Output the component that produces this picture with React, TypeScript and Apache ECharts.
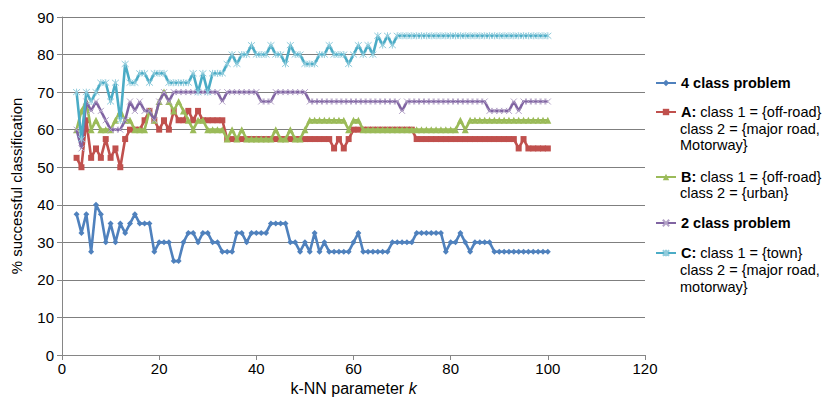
import React, { useEffect, useRef } from "react";
import * as echarts from "echarts";

const K_FIRST = 3;
const K_LAST = 100;

// 4 class problem (k = 3 .. 100)
const fourClass = [
  37.5, 32.5, 37.5, 27.5, 40, 37.5, 30, 35, 30, 35,
  32.5, 35, 37.5, 35, 35, 35, 27.5, 30, 30, 30,
  25, 25, 30, 32.5, 32.5, 30, 32.5, 32.5, 30, 30,
  27.5, 27.5, 27.5, 32.5, 32.5, 30, 32.5, 32.5, 32.5, 32.5,
  35, 35, 35, 35, 30, 30, 27.5, 30, 27.5, 32.5,
  27.5, 30, 27.5, 27.5, 27.5, 27.5, 27.5, 30, 32.5, 27.5,
  27.5, 27.5, 27.5, 27.5, 27.5, 30, 30, 30, 30, 30,
  32.5, 32.5, 32.5, 32.5, 32.5, 32.5, 27.5, 30, 30, 32.5,
  30, 27.5, 30, 30, 30, 30, 27.5, 27.5, 27.5, 27.5,
  27.5, 27.5, 27.5, 27.5, 27.5, 27.5, 27.5, 27.5,
];

// A: off-road vs major road / motorway
const seriesA = [
  52.5, 50, 62.5, 52.5, 55, 52.5, 57.5, 52.5, 55, 50,
  57.5, 60, 60, 60, 62.5, 65, 62.5, 60, 62.5, 60,
  65, 62.5, 62.5, 65, 62.5, 65, 62.5, 62.5, 62.5, 62.5,
  62.5, 57.5, 57.5, 57.5, 57.5, 57.5, 57.5, 57.5, 57.5, 57.5,
  57.5, 57.5, 57.5, 57.5, 57.5, 57.5, 57.5, 57.5, 57.5, 57.5,
  57.5, 57.5, 57.5, 55, 57.5, 55, 57.5, 60, 60, 60,
  60, 60, 60, 60, 60, 60, 60, 60, 60, 60,
  57.5, 57.5, 57.5, 57.5, 57.5, 57.5, 57.5, 57.5, 57.5, 57.5,
  57.5, 57.5, 57.5, 57.5, 57.5, 57.5, 57.5, 57.5, 57.5, 57.5,
  57.5, 55, 57.5, 55, 55, 55, 55, 55,
];

// B: off-road vs urban
const seriesB = [
  60, 65, 67.5, 60, 62.5, 60, 60, 60, 62.5, 65,
  62.5, 62.5, 60, 60, 60, 65, 62.5, 67.5, 70, 67.5,
  65, 67.5, 65, 62.5, 60, 62.5, 62.5, 60, 60, 60,
  60, 57.5, 60, 57.5, 60, 57.5, 57.5, 57.5, 57.5, 57.5,
  57.5, 60, 57.5, 57.5, 60, 57.5, 57.5, 60, 62.5, 62.5,
  62.5, 62.5, 62.5, 62.5, 62.5, 62.5, 60, 62.5, 62.5, 60,
  60, 60, 60, 60, 60, 60, 60, 60, 60, 60,
  60, 60, 60, 60, 60, 60, 60, 60, 60, 62.5,
  60, 62.5, 62.5, 62.5, 62.5, 62.5, 62.5, 62.5, 62.5, 62.5,
  62.5, 62.5, 62.5, 62.5, 62.5, 62.5, 62.5, 62.5,
];

// 2 class problem
const twoClass = [
  60, 55, 67.5, 65, 67.5, 65, 62.5, 60, 60, 60,
  62.5, 67.5, 65, 67.5, 65, 65, 62.5, 67.5, 70, 67.5,
  70, 70, 70, 70, 70, 70, 70, 70, 70, 70,
  67.5, 70, 70, 70, 70, 70, 70, 70, 67.5, 67.5,
  67.5, 70, 70, 70, 70, 70, 70, 70, 67.5, 67.5,
  67.5, 67.5, 67.5, 67.5, 67.5, 67.5, 67.5, 67.5, 67.5, 67.5,
  67.5, 67.5, 67.5, 67.5, 67.5, 67.5, 67.5, 65, 67.5, 67.5,
  67.5, 67.5, 67.5, 67.5, 67.5, 67.5, 67.5, 67.5, 67.5, 67.5,
  67.5, 67.5, 67.5, 67.5, 67.5, 65, 65, 65, 65, 65,
  67.5, 65, 67.5, 67.5, 67.5, 67.5, 67.5, 67.5,
];

// C: town vs major road / motorway
const seriesC = [
  70, 57.5, 70, 67.5, 70, 72.5, 72.5, 67.5, 72.5, 62.5,
  77.5, 72.5, 72.5, 75, 75, 72.5, 75, 75, 75, 72.5,
  72.5, 72.5, 72.5, 72.5, 75, 70, 75, 70, 75, 75,
  75, 77.5, 80, 77.5, 80, 80, 82.5, 80, 80, 80,
  82.5, 80, 80, 77.5, 82.5, 80, 80, 77.5, 77.5, 77.5,
  80, 80, 82.5, 80, 80, 80, 77.5, 80, 82.5, 80,
  82.5, 80, 85, 82.5, 85, 82.5, 85, 85, 85, 85,
  85, 85, 85, 85, 85, 85, 85, 85, 85, 85,
  85, 85, 85, 85, 85, 85, 85, 85, 85, 85,
  85, 85, 85, 85, 85, 85, 85, 85,
];

const xTicks = [0, 20, 40, 60, 80, 100, 120];
const yTicks = [0, 10, 20, 30, 40, 50, 60, 70, 80, 90];

const seriesNames = ["4 class problem", "A", "B", "2 class problem", "C"];
const legendFirstLines = [
  "{b|4 class problem}",
  "{b|A:} class 1 = {off-road}",
  "{b|B:} class 1 = {off-road}",
  "{b|2 class problem}",
  "{b|C:} class 1 = {town}",
];
const legendExtraLines = [
  [],
  ["class 2 = {major road,", "Motorway}"],
  ["class 2 = {urban}"],
  [],
  ["class 2 = {major road,", "motorway}"],
];

const FONT = "'Liberation Sans', Arial, sans-serif";

export default function App() {
  const ref = useRef<HTMLDivElement>(null);

  useEffect(() => {
    if (!ref.current) return;
    const chart = echarts.init(ref.current, null, { renderer: "svg" });

    const kValues: number[] = [];
    for (let k = K_FIRST; k <= K_LAST; k++) kValues.push(k);
    const toPairs = (vals: number[]) => vals.map((v, i) => [kValues[i], v]);

    const colors = ["#4F81BD", "#C0504D", "#9BBB59", "#8064A2", "#4BACC6"];
    const symbols = [
      "diamond",
      "rect",
      "triangle",
      "path://M0,0L10,10M10,0L0,10",
      "path://M0,0L10,10M10,0L0,10M5,-1L5,11",
    ];
    const symbolSizes = [6, 6, 7, 6, 7];
    const allData = [fourClass, seriesA, seriesB, twoClass, seriesC];
    const markerColors = ["#4F81BD", "#C0504D", "#9BBB59", "#B3A2C7", "#93CDDD"];

    const series = allData.map((d, i) => ({
      name: seriesNames[i],
      type: "line",
      data: toPairs(d),
      symbol: symbols[i],
      symbolSize: symbolSizes[i],
      showSymbol: true,
      lineStyle: { color: colors[i], width: 2.6 },
      itemStyle:
        i >= 3
          ? { color: markerColors[i], borderColor: markerColors[i], borderWidth: 1 }
          : { color: colors[i], borderColor: colors[i], borderWidth: 0 },
      color: colors[i],
      z: 2 + i,
    }));

    const legendCenters = [83, 112, 177, 223, 253];
    const extraCenters = [[], [129, 145], [193], [], [270, 287]];

    const legends = seriesNames.map((name, i) => ({
      show: true,
      data: [name],
      left: 655,
      top: legendCenters[i] - 9,
      orient: "vertical",
      padding: 0,
      itemWidth: 20,
      itemHeight: 8,
      itemGap: 0,
      selectedMode: false,
      formatter: () => legendFirstLines[i],
      textStyle: {
        fontSize: 14.5,
        color: "#000",
        fontFamily: FONT,
        lineHeight: 18,
        rich: {
          b: { fontWeight: "bold", fontSize: 14.5, fontFamily: FONT, color: "#000", lineHeight: 18 },
        },
      },
    }));

    const graphics: any[] = [];
    legendExtraLines.forEach((lines, i) => {
      lines.forEach((t, j) => {
        graphics.push({
          type: "text",
          x: 680,
          y: extraCenters[i][j],
          style: {
            text: t,
            fontSize: 14.5,
            fontFamily: FONT,
            fill: "#000",
            verticalAlign: "middle",
          },
        });
      });
    });

    chart.setOption({
      animation: false,
      backgroundColor: "#fff",
      grid: { left: 62, right: 181, top: 17, bottom: 50, containLabel: false },
      xAxis: {
        type: "value",
        min: xTicks[0],
        max: xTicks[xTicks.length - 1],
        interval: 20,
        name: "k-NN parameter {i|k}",
        nameLocation: "middle",
        nameGap: 16,
        nameTextStyle: {
          fontSize: 16,
          fontFamily: FONT,
          color: "#000",
          verticalAlign: "top",
          rich: { i: { fontStyle: "italic", fontSize: 16, fontFamily: FONT, color: "#000" } },
        },
        axisLine: { show: true, lineStyle: { color: "#868686", width: 1 } },
        axisTick: { show: true, length: 5, lineStyle: { color: "#868686" } },
        axisLabel: { fontSize: 15, fontFamily: FONT, color: "#000", margin: 6 },
        splitLine: { show: false },
      },
      yAxis: {
        type: "value",
        min: yTicks[0],
        max: yTicks[yTicks.length - 1],
        interval: 10,
        name: "% successful classification",
        nameLocation: "middle",
        nameGap: 38,
        nameRotate: 90,
        nameTextStyle: { fontSize: 15, fontFamily: FONT, color: "#000" },
        axisLine: { show: true, lineStyle: { color: "#868686", width: 1 } },
        axisTick: { show: true, length: 5, lineStyle: { color: "#868686" } },
        axisLabel: { fontSize: 15, fontFamily: FONT, color: "#000", margin: 8 },
        splitLine: { show: true, lineStyle: { color: "#7f7f7f", width: 1 } },
      },
      legend: legends,
      graphic: graphics,
      series,
    });

    return () => chart.dispose();
  }, []);

  return (
    <div
      ref={ref}
      style={{ position: "fixed", left: 0, top: 0, width: 826, height: 405, background: "#fff" }}
    />
  );
}
